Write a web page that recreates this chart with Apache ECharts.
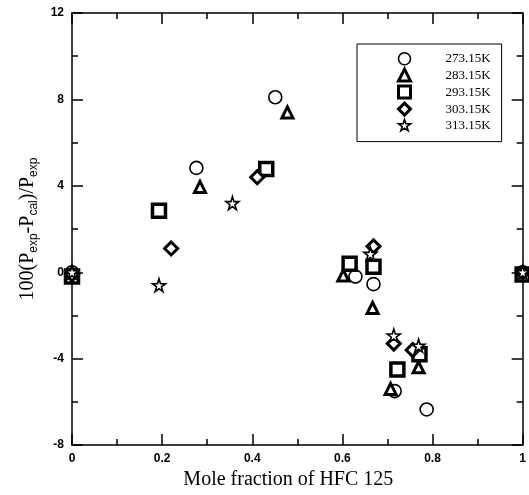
<!DOCTYPE html>
<html>
<head>
<meta charset="utf-8">
<script src="https://cdn.jsdelivr.net/npm/echarts@6/dist/echarts.min.js"></script>
<style>
  html, body { margin: 0; padding: 0; background: #fff; }
  #chart { width: 529px; height: 495px; }
</style>
</head>
<body>
<div id="chart"></div>
<script>
// values
const x273 = [0, 0.276, 0.451, 0.629, 0.669, 0.716, 0.787, 1]
const y273 = [0, 4.83, 8.1, -0.2, -0.55, -5.5, -6.35, 0]
const x283 = [0, 0.284, 0.478, 0.602, 0.667, 0.707, 0.769, 1]
const y283 = [0, 3.95, 7.4, -0.15, -1.65, -5.4, -4.4, 0]
const x293 = [0, 0.193, 0.431, 0.616, 0.669, 0.722, 0.771, 1]
const y293 = [-0.2, 2.85, 4.78, 0.39, 0.25, -4.5, -3.8, -0.1]
const x303 = [0, 0.22, 0.411, 0.669, 0.714, 0.756, 1]
const y303 = [-0.1, 1.1, 4.4, 1.2, -3.3, -3.6, 0]
const x313 = [0, 0.193, 0.356, 0.662, 0.714, 0.769, 1]
const y313 = [0, -0.6, 3.2, 0.85, -2.93, -3.4, 0]
const seriesNames = ['273.15K', '283.15K', '293.15K', '303.15K', '313.15K']

const star = 'path://M50,0 L61,35 98,35 68,57 79,91 50,70 21,91 32,57 2,35 39,35 Z'

const zip = (xs, ys) => xs.map((x, i) => [x, ys[i]])

const markers = [
  { symbol: 'circle', size: 13, bw: 1.6 },
  { symbol: 'triangle', size: 11, bw: 3 },
  { symbol: 'rect', size: 13, bw: 3.5 },
  { symbol: 'diamond', size: 13, bw: 3 },
  { symbol: star, size: 13, bw: 1.6 }
]
const dataSets = [zip(x273, y273), zip(x283, y283), zip(x293, y293), zip(x303, y303), zip(x313, y313)]

const tickStyle = { color: '#000', width: 1.5 }
const labelFont = { color: '#000', fontFamily: 'Liberation Sans', fontWeight: 'bold', fontSize: 12 }

const chart = echarts.init(document.getElementById('chart'), null, { renderer: 'canvas' })

const mkX = (pos, showLabel) => ({
  type: 'value',
  position: pos,
  min: 0,
  max: 1,
  interval: 0.2,
  axisLine: { show: true, onZero: false, lineStyle: { color: '#000', width: 1.5 } },
  axisTick: { show: true, inside: true, length: 11, lineStyle: tickStyle },
  minorTick: { show: true, splitNumber: 2, length: 6, lineStyle: tickStyle },
  splitLine: { show: false },
  axisLabel: { show: showLabel, margin: 8, ...labelFont, formatter: v => (v === 0 || v === 1) ? String(v) : v.toFixed(1) }
})

const mkY = (pos, showLabel) => ({
  type: 'value',
  position: pos,
  min: -8,
  max: 12,
  interval: 4,
  axisLine: { show: true, onZero: false, lineStyle: { color: '#000', width: 1.5 } },
  axisTick: { show: true, inside: true, length: 11, lineStyle: tickStyle },
  minorTick: { show: true, splitNumber: 2, length: 6, lineStyle: tickStyle },
  splitLine: { show: false },
  axisLabel: { show: showLabel, margin: 8, ...labelFont }
})

const xMain = mkX('bottom', true)
xMain.name = 'Mole fraction of HFC 125'
xMain.nameLocation = 'middle'
xMain.nameGap = 24
xMain.nameTextStyle = { color: '#000', fontFamily: 'Liberation Serif', fontSize: 20, padding: [0, 18, 0, 0] }

const yMain = mkY('left', true)
yMain.nameLocation = 'middle'
yMain.nameGap = 30
yMain.name = '{m|100(P}{s|exp}{m|-P}{s|cal}{m|)/P}{s|exp}'
yMain.nameTextStyle = {
  color: '#000',
  rich: {
    m: { fontFamily: 'Liberation Serif', fontSize: 20, color: '#000', lineHeight: 24 },
    s: { fontFamily: 'Liberation Sans', fontSize: 12, color: '#000', padding: [12, 0, 0, 0], lineHeight: 24 }
  }
}

const option = {
  animation: false,
  backgroundColor: '#fff',
  grid: { left: 72, right: 5, top: 13, bottom: 47 },
  legend: {
    orient: 'vertical',
    left: 357,
    top: 44,
    padding: [8, 11, 10, 40],
    itemWidth: 12,
    itemHeight: 12,
    itemGap: 2,
    borderColor: '#000',
    borderWidth: 1,
    borderRadius: 0,
    textStyle: { color: '#000', fontFamily: 'Liberation Serif', fontSize: 13, padding: [0, 0, 0, 30] },
    data: seriesNames.map((n, i) => ({
      name: n,
      icon: markers[i].symbol,
      itemStyle: { color: '#fff', borderColor: '#000', borderWidth: Math.min(markers[i].bw, 3) }
    }))
  },
  xAxis: [xMain, mkX('top', false)],
  yAxis: [yMain, mkY('right', false)],
  series: seriesNames.map((n, i) => ({
    name: n,
    type: 'scatter',
    data: dataSets[i],
    symbol: markers[i].symbol,
    symbolSize: markers[i].size,
    itemStyle: { color: '#fff', borderColor: '#000', borderWidth: markers[i].bw, opacity: 1 },
    clip: false
  }))
}

chart.setOption(option)
</script>
</body>
</html>
